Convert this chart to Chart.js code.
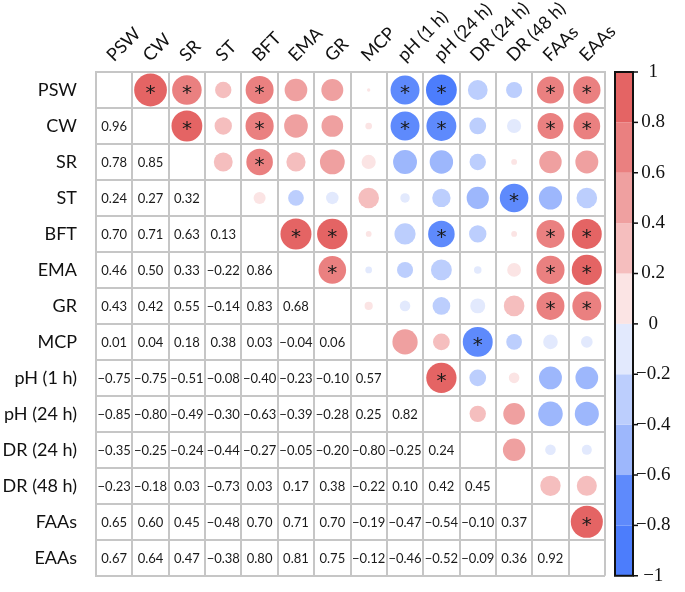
<!DOCTYPE html>
<html>
<head>
<meta charset="utf-8">
<script src="https://cdn.jsdelivr.net/npm/chart.js@4/dist/chart.umd.min.js"></script>
<style>
  html, body { margin: 0; padding: 0; background: #fff; }
  #wrap { width: 685px; height: 592px; }
</style>
</head>
<body>
<div id="wrap"><canvas id="corr"></canvas></div>
<script>
const names = ['PSW', 'CW', 'SR', 'ST', 'BFT', 'EMA', 'GR', 'MCP',
    'pH (1 h)', 'pH (24 h)', 'DR (24 h)', 'DR (48 h)', 'FAAs', 'EAAs']

// lower triangle, row by row (row i has i values)
const lower = [
    [],
    [0.96],
    [0.78, 0.85],
    [0.24, 0.27, 0.32],
    [0.70, 0.71, 0.63, 0.13],
    [0.46, 0.50, 0.33, -0.22, 0.86],
    [0.43, 0.42, 0.55, -0.14, 0.83, 0.68],
    [0.01, 0.04, 0.18, 0.38, 0.03, -0.04, 0.06],
    [-0.75, -0.75, -0.51, -0.08, -0.40, -0.23, -0.10, 0.57],
    [-0.85, -0.80, -0.49, -0.30, -0.63, -0.39, -0.28, 0.25, 0.82],
    [-0.35, -0.25, -0.24, -0.44, -0.27, -0.05, -0.20, -0.80, -0.25, 0.24],
    [-0.23, -0.18, 0.03, -0.73, 0.03, 0.17, 0.38, -0.22, 0.10, 0.42, 0.45],
    [0.65, 0.60, 0.45, -0.48, 0.70, 0.71, 0.70, -0.19, -0.47, -0.54, -0.10, 0.37],
    [0.67, 0.64, 0.47, -0.38, 0.80, 0.81, 0.75, -0.12, -0.46, -0.52, -0.09, 0.36, 0.92],
]

// significant pairs [row, col], upper triangle
const signif = [
    [0, 1], [0, 2], [0, 4], [0, 8], [0, 9], [0, 12], [0, 13],
    [1, 2], [1, 4], [1, 8], [1, 9], [1, 12], [1, 13],
    [2, 4],
    [3, 11],
    [4, 5], [4, 6], [4, 9], [4, 12], [4, 13],
    [5, 6], [5, 12], [5, 13],
    [6, 12], [6, 13],
    [7, 10],
    [8, 9],
    [12, 13],
]

const barTicks = [-1, -0.8, -0.6, -0.4, -0.2, 0, 0.2, 0.4, 0.6, 0.8, 1]

// band colours from -1 up to 1
const bands = ['#4c7dfc', '#5e8afc', '#9db7fc', '#bccefd', '#e2e9fd',
    '#fbe4e4', '#f5bebe', '#efa0a0', '#ea8080', '#e46464']

const colorFor = v => bands[Math.max(0, Math.min(9, Math.floor((v + 1) / 0.2 + 1e-9)))]
const fmt = v => (v < 0 ? '\u2212' : '') + Math.abs(v).toFixed(2)

// circles for the upper triangle
const circles = []
for (let i = 0; i < names.length; i++) {
    for (let j = i + 1; j < names.length; j++) {
        circles.push({ x: names[j], y: names[i], v: lower[j][i] })
    }
}

const cellSize = chart => {
    const a = chart.chartArea
    if (!a) return 36
    return (a.right - a.left) / names.length
}
const circleRadius = c => Math.sqrt(Math.abs(c.raw.v)) * cellSize(c.chart) * 0.46

// fixed axis sizes, no extra padding from label overflow
const fitTo = (prop, size) => s => {
    s[prop] = size
    s.paddingTop = 0
    s.paddingBottom = 0
    s.paddingLeft = 0
    s.paddingRight = 0
}

const cellText = {
    id: 'cellText',
    afterDatasetsDraw(chart) {
        const { ctx, scales: { x, y } } = chart
        ctx.save()
        ctx.fillStyle = '#1a1a1a'
        ctx.textAlign = 'center'
        ctx.textBaseline = 'middle'
        ctx.font = '13px Lato'
        lower.forEach((row, i) => {
            row.forEach((v, j) => {
                ctx.fillText(fmt(v), x.getPixelForValue(j), y.getPixelForValue(i) + 1)
            })
        })
        ctx.font = '20px "DejaVu Sans"'
        signif.forEach(([i, j]) => {
            ctx.fillText('*', x.getPixelForValue(j), y.getPixelForValue(i) + 4)
        })
        ctx.restore()
    },
}

const colorBar = {
    id: 'colorBar',
    afterDraw(chart) {
        const { ctx } = chart
        const cb = chart.scales.cb
        const x0 = cb.left + 10
        const w = 18
        ctx.save()
        for (let k = 0; k < bands.length; k++) {
            const yA = cb.getPixelForValue(barTicks[k])
            const yB = cb.getPixelForValue(barTicks[k + 1])
            ctx.fillStyle = bands[k]
            ctx.fillRect(x0, yB, w, yA - yB)
        }
        ctx.strokeStyle = '#111'
        ctx.lineWidth = 2
        ctx.strokeRect(x0, cb.top, w, cb.bottom - cb.top)
        ctx.lineWidth = 1.5
        barTicks.forEach(t => {
            const py = cb.getPixelForValue(t)
            ctx.beginPath()
            ctx.moveTo(x0 + w, py)
            ctx.lineTo(x0 + w + 5, py)
            ctx.stroke()
        })
        ctx.restore()
    },
}

const gridColor = '#c6c6c6'

new Chart(document.getElementById('corr').getContext('2d'), {
    type: 'scatter',
    data: {
        datasets: [
            {
                data: circles,
                pointStyle: 'circle',
                borderWidth: 0,
                backgroundColor: c => colorFor(c.raw.v),
                radius: circleRadius,
                hoverRadius: circleRadius,
            },
        ],
    },
    plugins: [cellText, colorBar],
    options: {
        responsive: true,
        maintainAspectRatio: false,
        animation: false,
        events: [],
        layout: { padding: { bottom: 13 } },
        plugins: {
            legend: { display: false },
            tooltip: { enabled: false },
        },
        scales: {
            x: {
                type: 'category',
                labels: names,
                position: 'top',
                offset: true,
                grid: { offset: true, color: gridColor, lineWidth: 2, drawTicks: false },
                border: { color: gridColor, width: 2 },
                ticks: {
                    autoSkip: false,
                    minRotation: 45,
                    maxRotation: 45,
                    padding: 6,
                    labelOffset: 11,
                    color: '#111',
                    font: { family: 'Lato', size: 18 },
                },
                afterFit: fitTo('height', 72),
            },
            y: {
                type: 'category',
                labels: names,
                position: 'left',
                offset: true,
                grid: { offset: true, color: gridColor, lineWidth: 2, drawTicks: false },
                border: { color: gridColor, width: 2 },
                ticks: {
                    autoSkip: false,
                    padding: 19,
                    color: '#111',
                    font: { family: 'Lato', size: 18 },
                },
                afterFit: fitTo('width', 96),
            },
            cb: {
                type: 'linear',
                axis: 'y',
                position: 'right',
                min: -1,
                max: 1,
                grid: { display: false },
                border: { display: false },
                afterBuildTicks: s => { s.ticks = barTicks.map(v => ({ value: v })) },
                ticks: {
                    padding: 23,
                    crossAlign: 'center',
                    color: '#111',
                    font: { family: 'Liberation Serif', size: 19 },
                    callback: v => (v < 0 ? '\u2212' : '') + Math.abs(Math.round(v * 10) / 10),
                },
                afterFit: fitTo('width', 80),
            },
        },
    },
})
</script>
</body>
</html>
